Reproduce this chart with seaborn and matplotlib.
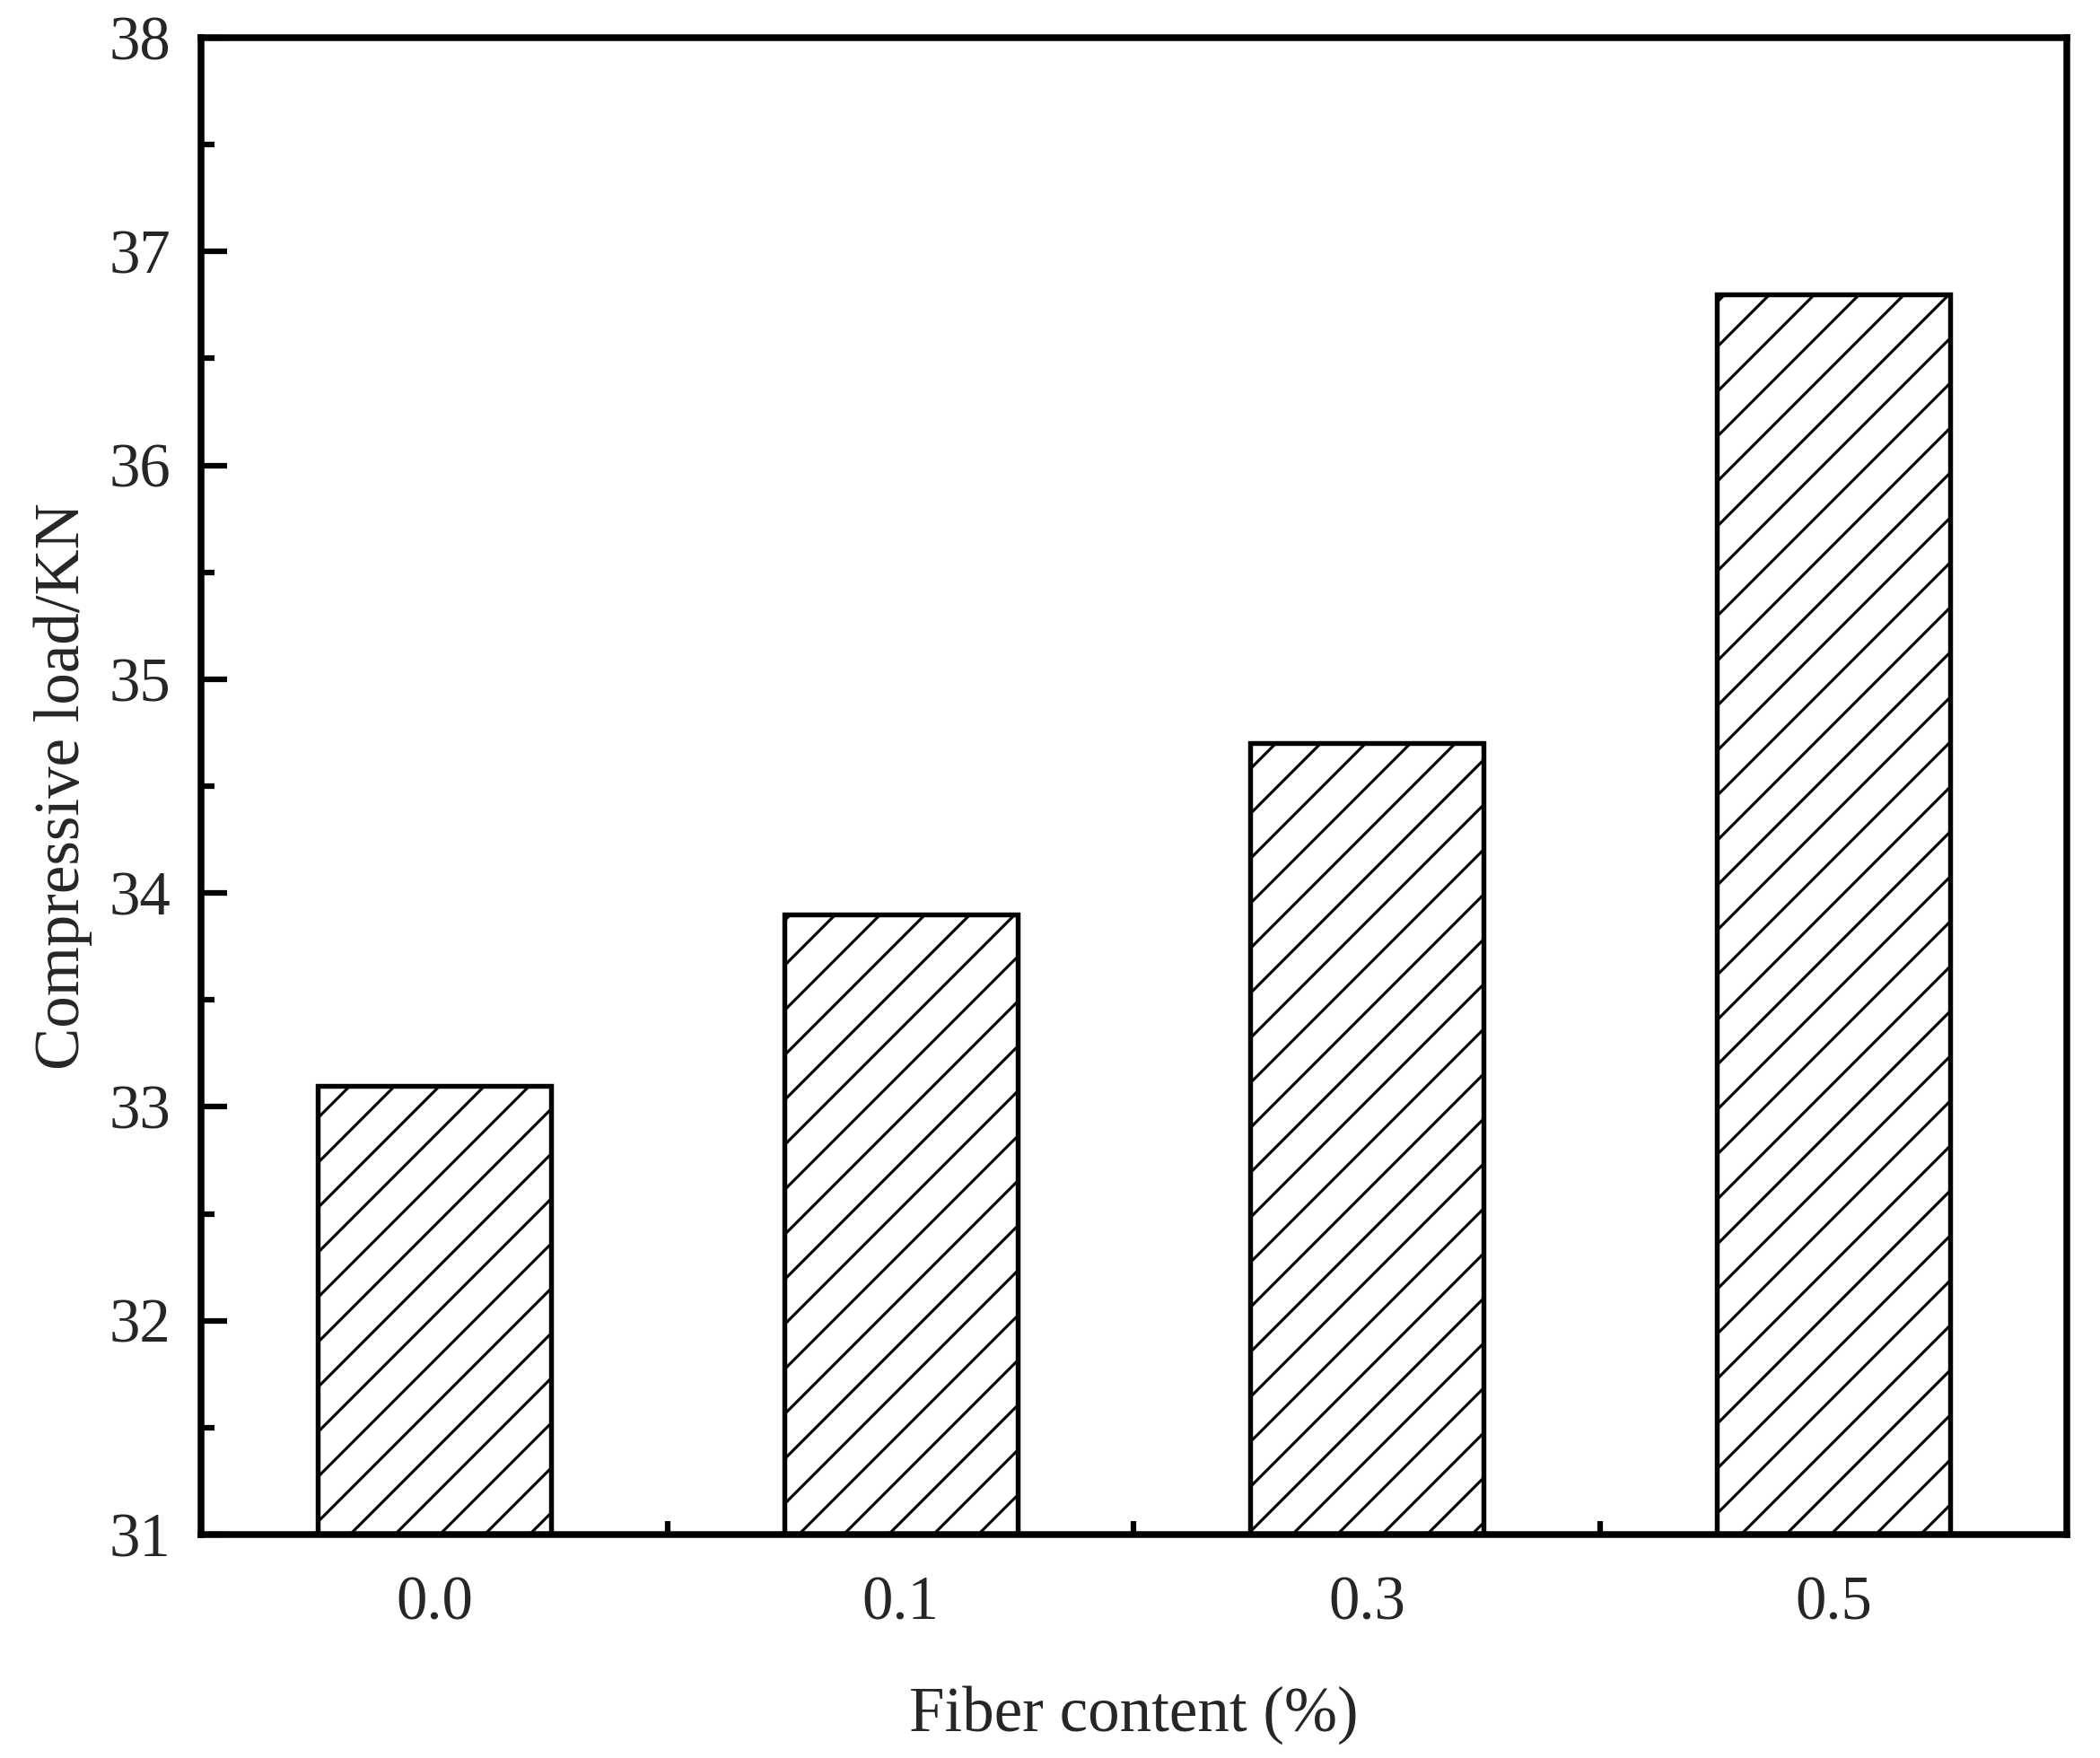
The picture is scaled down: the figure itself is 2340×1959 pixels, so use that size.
import numpy as np
import pandas as pd
import matplotlib
matplotlib.use("Agg")
import matplotlib.pyplot as plt
from matplotlib.ticker import MultipleLocator, FixedLocator
import seaborn as sns

# data
fiber = ["0.0", "0.1", "0.3", "0.5"]
load_kn = [33.1, 33.9, 34.7, 36.8]

df = pd.DataFrame({"fiber": fiber, "load": load_kn})

sns.set_style("ticks")
plt.rcParams["font.family"] = ["Liberation Serif", "DejaVu Serif"]
plt.rcParams["hatch.linewidth"] = 0.75
plt.rcParams["hatch.color"] = "black"

fig = plt.figure(figsize=(7.8, 6.53), dpi=300)
ax = fig.add_axes([0.0957, 0.1271, 0.8885, 0.8515])

sns.barplot(data=df, x="fiber", y="load", ax=ax, width=0.5,
            color="white", edgecolor="black", linewidth=1.3,
            errorbar=None)
for p in ax.patches:
    p.set_hatch("//")
    p.set_facecolor("white")

ax.set_xlim(-0.5, 3.5)
ax.set_ylim(31, 38)

# ticks inward, minor ones in between
ax.yaxis.set_major_locator(MultipleLocator(1))
ax.yaxis.set_minor_locator(MultipleLocator(0.5))
ax.xaxis.set_minor_locator(FixedLocator([0.5, 1.5, 2.5]))
ax.tick_params(which="major", direction="in", length=7, width=1.5,
               labelsize=16.5, color="black", pad=8)
ax.tick_params(axis="x", which="major", pad=11)
ax.tick_params(which="minor", direction="in", length=3.5, width=1.5,
               color="black")
ax.tick_params(top=False, right=False, which="both")

for s in ax.spines.values():
    s.set_visible(True)
    s.set_linewidth(1.8)
    s.set_color("black")

ax.set_xlabel("Fiber content (%)", fontsize=17, labelpad=14)
ax.set_ylabel("Compressive load/KN", fontsize=17)
ax.yaxis.set_label_coords(-0.058, 0.5)

fig.savefig("out.png", dpi=300, facecolor="white")
